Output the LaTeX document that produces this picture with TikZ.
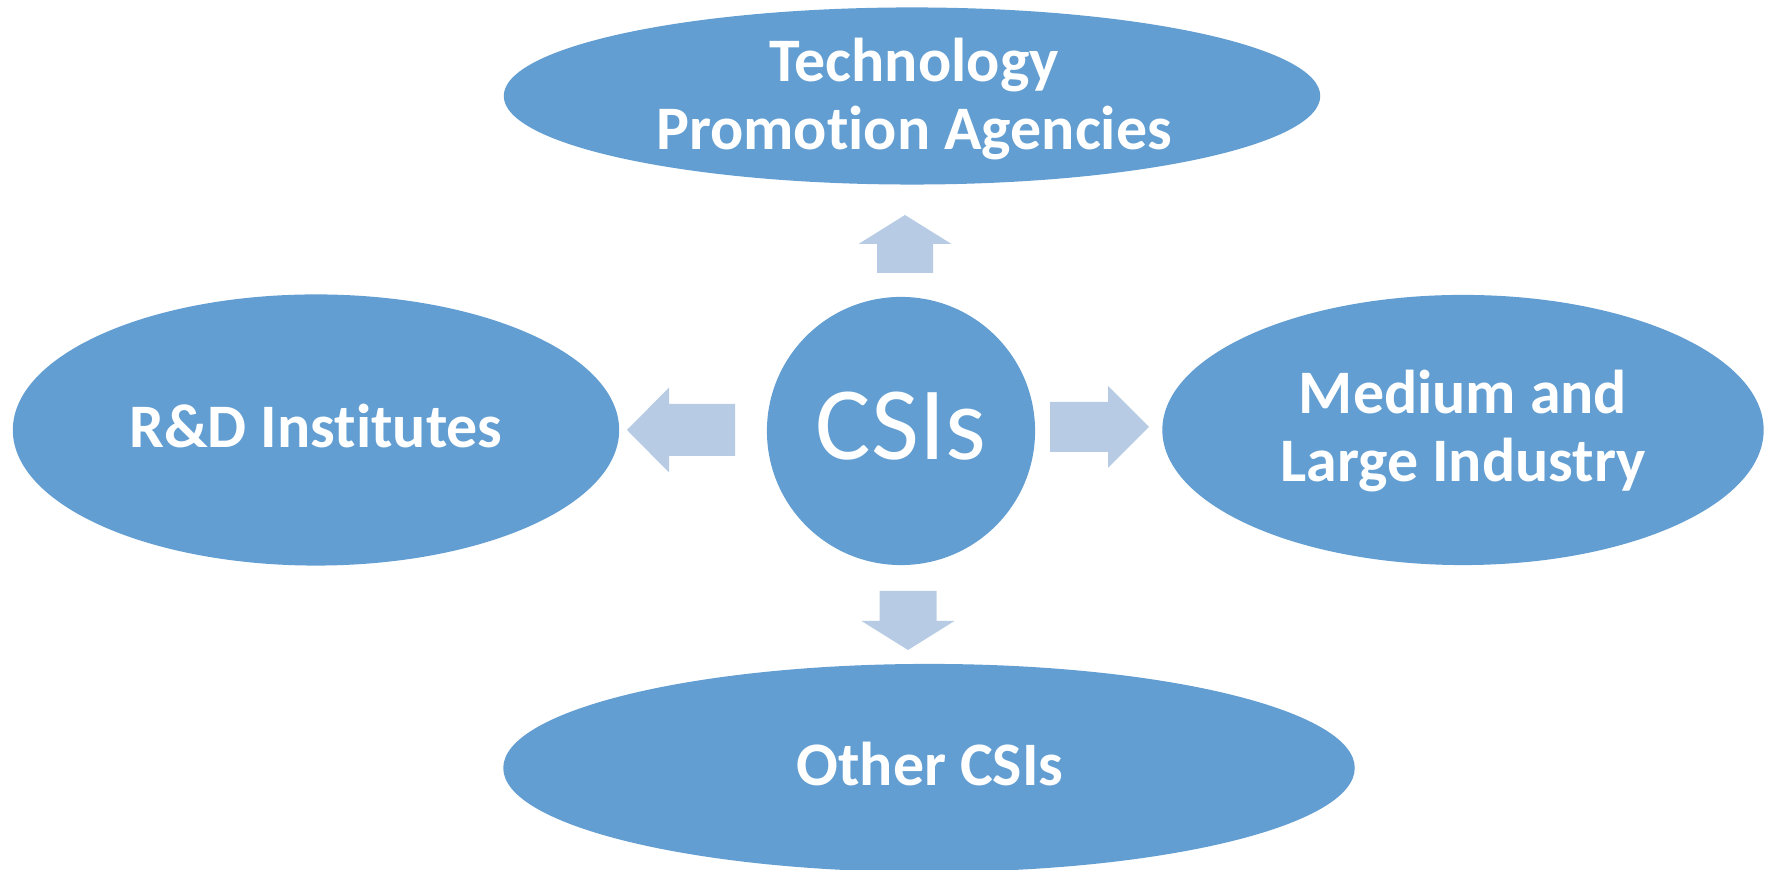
\documentclass[tikz,border=0pt]{standalone}
\usepackage{fontspec}
\setmainfont{Carlito}[Ligatures=NoCommon]
\usetikzlibrary{positioning,shapes.geometric}
\definecolor{csiblue}{HTML}{629ED1}
\definecolor{csilight}{HTML}{B7CCE4}

\begin{document}
\begin{tikzpicture}[
  x=0.01cm, y=0.01cm,
  blob/.style={ellipse, fill=csiblue, draw=none, inner sep=0pt},
  hub/.style={circle, fill=csiblue, draw=none, inner sep=0pt, minimum size=2.68cm},
  lab/.style={text=white, align=center, inner sep=0pt,
              font=\bfseries\fontsize{17.6}{19.5}\selectfont},
  fa/.style={fill=csilight, draw=none}
]
\useasboundingbox (0,0) rectangle (1769,870);
% ----- partner bodies round the hub -----
\node[blob, minimum width=8.16cm, minimum height=1.77cm] (tpa) at (912,774) {};
\node[blob, minimum width=6.06cm, minimum height=2.71cm] (rdi) at (316,440) {};
\node[blob, minimum width=6.01cm, minimum height=2.70cm] (mli) at (1463,440) {};
\node[blob, minimum width=8.51cm, minimum height=2.08cm] (oth) at (929,102) {};
\node[hub] (csi) at (901,439) {};
% ----- texts -----
\node[lab] at ([shift={(2,-3)}]tpa.center) {Technology\\Promotion Agencies};
\node[lab, anchor=base] at ([shift={(0,-18)}]rdi.center) {R\&D Institutes};
\node[lab] at ([shift={(0,-1)}]mli.center) {Medium and\\Large Industry};
\node[lab, anchor=base] at ([shift={(1,-18)}]oth.center) {Other CSIs};
\node[lab, anchor=base, font=\fontsize{29.6}{32}\selectfont] at ([shift={(0,-29)}]csi.center) {CSIs};
% ----- block arrows out of the hub -----
\coordinate (up) at (905,597);
\coordinate (lt) at (735,440);
\coordinate (rt) at (1050,443);
\coordinate (dn) at (908,279);
\foreach \c/\a/\L/\hl/\s/\h in {up/90/58/29/28/46.5, lt/180/108/42/26/42.5,
                                rt/0/99/41/25/41, dn/270/59/29/28.5/46.5}
  {\fill[fa, shift={(\c)}, rotate=\a] (0,-\s) -- (\L-\hl,-\s) -- (\L-\hl,-\h) -- (\L,0)
     -- (\L-\hl,\h) -- (\L-\hl,\s) -- (0,\s) -- cycle;}
\end{tikzpicture}
\end{document}
